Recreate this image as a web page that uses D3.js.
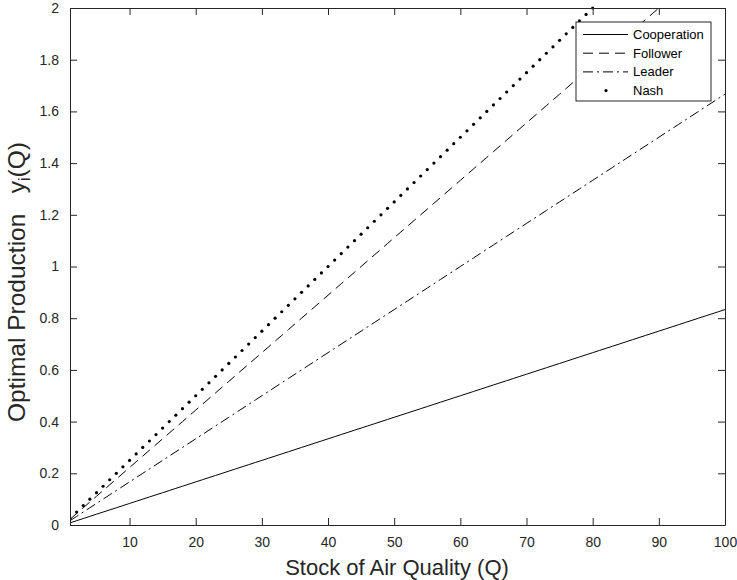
<!DOCTYPE html>
<html>
<head>
<meta charset="utf-8">
<script src="https://cdn.jsdelivr.net/npm/d3@7"></script>
<style>
body { margin: 0; background: #fff; }
svg { font-family: "Liberation Sans", Arial, sans-serif; }
.axis path, .axis line { stroke: #262626; }
.axis text { fill: #262626; }
</style>
</head>
<body>
<svg width="737" height="580"></svg>
<script>
'use strict';

// stock of air quality Q (x values, integer steps)
let qValues = d3.range(1, 101);
// slopes: y = Q * slope
let seriesNames = ["Cooperation", "Follower", "Leader", "Nash"];
let seriesSlopes = [1 / 120, 1 / 45, 1 / 60, 1 / 40];
let xTicks = [10, 20, 30, 40, 50, 60, 70, 80, 90, 100];
let yTicks = [0, 0.2, 0.4, 0.6, 0.8, 1, 1.2, 1.4, 1.6, 1.8, 2];

let svg = d3.select("svg");
let margin = {left: 70, right: 12, top: 8, bottom: 55};
let width = 737, height = 580;

let x = d3.scaleLinear().domain([1, 100]).range([margin.left, width - margin.right]);
let y = d3.scaleLinear().domain([0, 2]).range([height - margin.bottom, margin.top]);

svg.append("defs").append("clipPath").attr("id", "clip")
    .append("rect")
    .attr("x", x(1)).attr("y", y(2) - 2)
    .attr("width", x(100) - x(1)).attr("height", y(0) - y(2) + 2);

let data = seriesNames.map(function (name, i) {
    return {
        name: name,
        values: qValues.map(function (q) {
            return {q: q, v: q * seriesSlopes[i]};
        })
    };
});

let styles = {
    "Cooperation": null,
    "Follower": "10,6",
    "Leader": "10,4,2,4"
};

let line = d3.line()
    .x(function (d) { return x(d.q); })
    .y(function (d) { return y(d.v); });

let plot = svg.append("g").attr("clip-path", "url(#clip)");

data.forEach(function (s) {
    if (s.name === "Nash") {
        plot.selectAll(".nash").data(s.values.filter(function (d) { return d.v <= 2.001; }))
            .enter().append("circle")
            .attr("class", "nash")
            .attr("cx", function (d) { return x(d.q); })
            .attr("cy", function (d) { return y(d.v); })
            .attr("r", 1.6)
            .attr("fill", "#000");
    } else {
        plot.append("path")
            .datum(s.values)
            .attr("fill", "none")
            .attr("stroke", "#000")
            .attr("stroke-width", 1)
            .attr("stroke-dasharray", styles[s.name])
            .attr("d", line);
    }
});

// axes with inward ticks, box on all sides
let tickLen = 7;
svg.append("g").attr("class", "axis")
    .attr("transform", "translate(0," + y(0) + ")")
    .call(d3.axisBottom(x).tickValues(xTicks).tickSizeInner(-tickLen).tickSizeOuter(0).tickPadding(12))
    .attr("font-size", 14).attr("font-family", null);
svg.append("g").attr("class", "axis")
    .attr("transform", "translate(0," + y(2) + ")")
    .call(d3.axisTop(x).tickValues(xTicks).tickSizeInner(-tickLen).tickSizeOuter(0).tickFormat(""));
svg.append("g").attr("class", "axis")
    .attr("transform", "translate(" + x(1) + ",0)")
    .call(d3.axisLeft(y).tickValues(yTicks).tickSizeInner(-tickLen).tickSizeOuter(0).tickPadding(11)
        .tickFormat(d3.format("~g")))
    .attr("font-size", 14).attr("font-family", null);
svg.append("g").attr("class", "axis")
    .attr("transform", "translate(" + x(100) + ",0)")
    .call(d3.axisRight(y).tickValues(yTicks).tickSizeInner(-tickLen).tickSizeOuter(0).tickFormat(""));

// axis labels
svg.append("text")
    .attr("x", 397)
    .attr("y", 575)
    .attr("text-anchor", "middle")
    .attr("font-size", "22px")
    .attr("fill", "#262626")
    .text("Stock of Air Quality (Q)");

let yl = svg.append("text")
    .attr("transform", "translate(25,422) rotate(-90)")
    .attr("text-anchor", "start")
    .attr("font-size", "24.5px")
    .attr("fill", "#262626")
    .style("white-space", "pre");
yl.append("tspan").text("Optimal Production   y");
yl.append("tspan").attr("font-size", "16px").attr("dy", 5).text("i");
yl.append("tspan").attr("dy", -5).text("(Q)");

// legend
let legend = svg.append("g").attr("transform", "translate(576,22)");
legend.append("rect")
    .attr("width", 135).attr("height", 79)
    .attr("fill", "#fff").attr("stroke", "#262626").attr("stroke-width", 1);
seriesNames.forEach(function (name, i) {
    let ly = 12.5 + i * 18.7;
    if (name === "Nash") {
        legend.append("circle").attr("cx", 30).attr("cy", ly).attr("r", 1.6).attr("fill", "#000");
    } else {
        legend.append("line")
            .attr("x1", 7).attr("x2", 52).attr("y1", ly).attr("y2", ly)
            .attr("stroke", "#000")
            .attr("stroke-dasharray", styles[name]);
    }
    legend.append("text")
        .attr("x", 57).attr("y", ly + 4.5)
        .attr("font-size", "13px")
        .attr("fill", "#000")
        .text(name);
});
</script>
</body>
</html>
